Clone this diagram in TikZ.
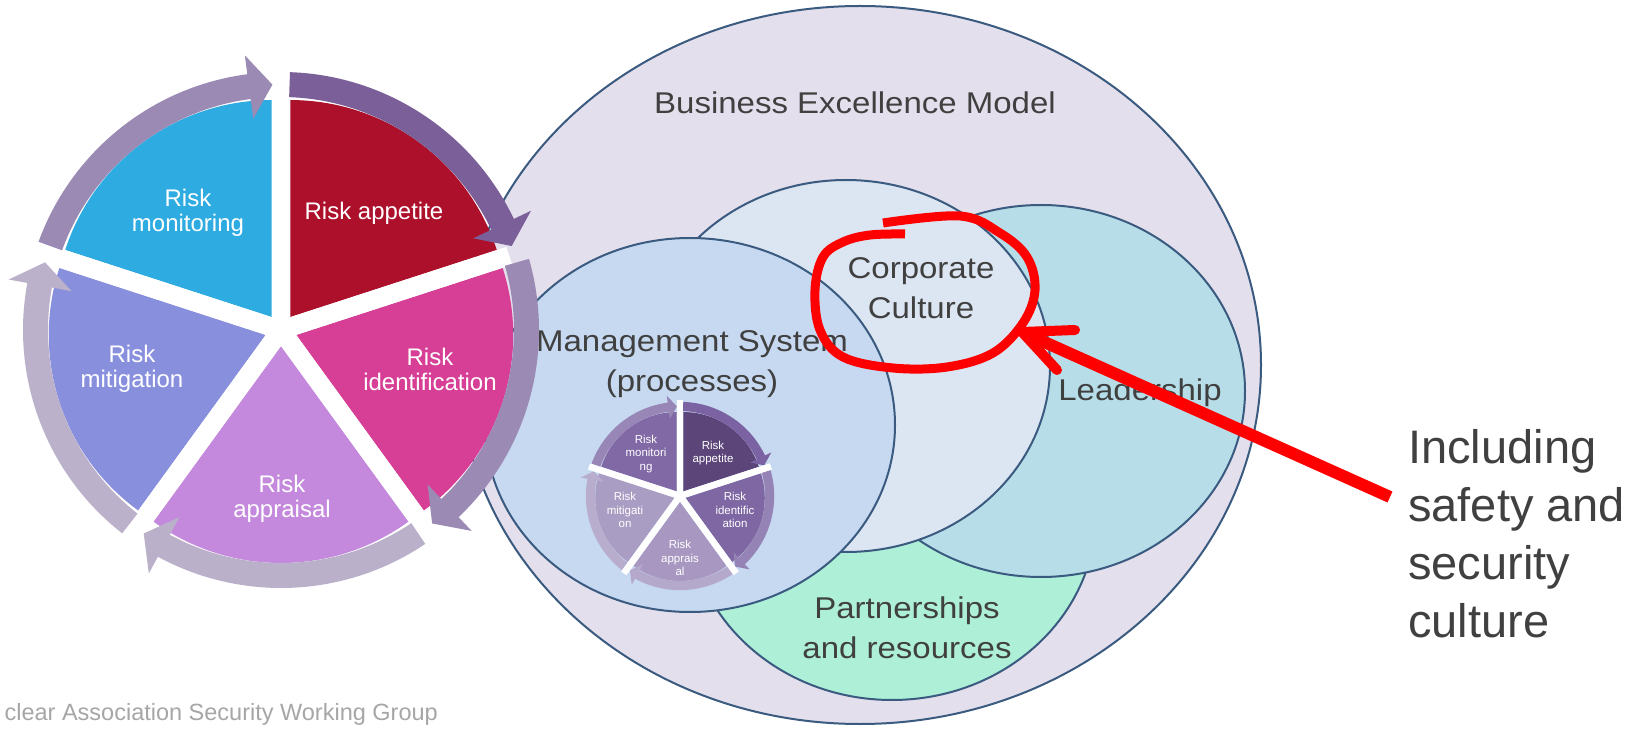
\documentclass[tikz,border=0pt]{standalone}
\usepackage{fontspec}
\setmainfont{Liberation Sans}
\usetikzlibrary{calc}
\definecolor{bemfill}{HTML}{E4DFEC}
\definecolor{ccfill}{HTML}{DCE6F2}
\definecolor{mgmtfill}{HTML}{C6D9F1}
\definecolor{leadfill}{HTML}{B7DEE8}
\definecolor{partfill}{HTML}{AEEFD7}
\definecolor{vennline}{HTML}{3A5A80}
\definecolor{labeltext}{HTML}{404040}
\definecolor{foottext}{HTML}{A6A6A6}
\definecolor{annored}{HTML}{FF0000}
% big pie
\definecolor{segmon}{HTML}{2EABE1}
\definecolor{segapp}{HTML}{AD102B}
\definecolor{segid}{HTML}{D63F95}
\definecolor{segappr}{HTML}{C489DC}
\definecolor{segmit}{HTML}{8890DE}
\definecolor{armon}{HTML}{9B8BB4}
\definecolor{arapp}{HTML}{7B5F98}
\definecolor{arid}{HTML}{9B8AB4}
\definecolor{arappr}{HTML}{BAB0CA}
\definecolor{armit}{HTML}{BBB1CB}
% small pie
\definecolor{smon}{HTML}{8169A5}
\definecolor{sapp}{HTML}{5B4579}
\definecolor{sid}{HTML}{7F67A4}
\definecolor{sappr}{HTML}{A898C1}
\definecolor{smit}{HTML}{AA9DC3}
\definecolor{samon}{HTML}{9886B6}
\definecolor{saapp}{HTML}{7B62A2}
\definecolor{said}{HTML}{9683B5}
\definecolor{saappr}{HTML}{B5A9CB}
\definecolor{samit}{HTML}{B8ADCD}

\newcommand{\pieSector}[2]{\fill[#2] (#1:16) -- ++({#1+36}:217) arc[start angle={#1+36}, end angle={#1-36}, radius=217] -- cycle;}
\newcommand{\pieArrow}[4]{\fill[#4] (#1:258) arc[start angle=#1, end angle=#2, radius=258] -- (#2:277) -- (#3:245.5) -- (#2:213) -- (#2:233) arc[start angle=#2, end angle=#1, radius=233] -- cycle;}
\newcommand{\pieGaps}[2]{\foreach \g in {90,18,-54,-126,162} {\draw[white, line width=#1] (0,0) -- (\g:#2);}}

\begin{document}
\begin{tikzpicture}[x=1pt, y=1pt,
  venn/.style={draw=vennline, line width=2pt},
  biglabel/.style={font=\fontsize{30}{40}\selectfont, text=labeltext, align=center, inner sep=0pt, xscale=1.1},
  pielabel/.style={font=\fontsize{24}{25}\selectfont, text=white, align=center, inner sep=0pt},
  minilabel/.style={font=\fontsize{11.5}{13.8}\selectfont, text=white, align=center, inner sep=0pt},
  redpen/.style={draw=annored, line width=9pt}]
\useasboundingbox (0,0) rectangle (1647,729);
\fill[white] (0,0) rectangle (1647,729);

% ---------- Venn circles ----------
\filldraw[venn, fill=bemfill] (860,364) ellipse [x radius=401, y radius=359];
\filldraw[venn, fill=partfill] (892,215) ellipse [x radius=204, y radius=186];
\filldraw[venn, fill=leadfill] (1041,338) ellipse [x radius=204, y radius=186];
\filldraw[venn, fill=ccfill] (846,363) ellipse [x radius=204, y radius=186];
\filldraw[venn, fill=mgmtfill] (690,304) ellipse [x radius=205, y radius=187];

\node[biglabel] (bem) at (855,626) {Business Excellence Model};
\node[biglabel] (mgmt) at (692,365) {Management System\\(processes)};
\node[biglabel] (cc) at (921,441) {Corporate\\Culture};
\node[biglabel] (lead) at (1140,336) {Leadership};
\node[biglabel] (part) at (907,101) {Partnerships\\and resources};

% ---------- small pie ----------
\begin{scope}[shift={(680,233)}, scale=0.365]
  \pieSector{126}{smon}
  \pieSector{54}{sapp}
  \pieSector{-18}{sid}
  \pieSector{-90}{sappr}
  \pieSector{-162}{smit}
  \pieArrow{160}{97.5}{92}{samon}
  \pieArrow{88}{25.5}{20}{saapp}
  \pieArrow{16}{-46.5}{-52}{said}
  \pieArrow{-56}{-118.5}{-124}{saappr}
  \pieArrow{-128}{-190.5}{-196}{samit}
  \pieGaps{6.5pt}{262}
\end{scope}
\node[minilabel] (smonl) at (646,275) {Risk\\monitori\\ng};
\node[minilabel] (sappl) at (713,276) {Risk\\appetite};
\node[minilabel] (sidl) at (735,219) {Risk\\identific\\ation};
\node[minilabel] (smitl) at (625,219) {Risk\\mitigati\\on};
\node[minilabel] (sapprl) at (680,171) {Risk\\apprais\\al};

% ---------- big pie ----------
\begin{scope}[shift={(281,399)}]
  \pieSector{126}{segmon}
  \pieSector{54}{segapp}
  \pieSector{-18}{segid}
  \pieSector{-90}{segappr}
  \pieSector{-162}{segmit}
  \pieGaps{18.8pt}{240}
  \pieArrow{160}{97.5}{92}{armon}
  \pieArrow{88}{25.5}{20}{arapp}
  \pieArrow{16}{-46.5}{-52}{arid}
  \pieArrow{-56}{-118.5}{-124}{arappr}
  \pieArrow{-128}{-190.5}{-196}{armit}
\end{scope}
\node[pielabel] (monl) at (188,516) {Risk\\monitoring};
\node[pielabel] (appl) at (374,516) {Risk appetite};
\node[pielabel] (idl) at (430,360) {Risk\\identification};
\node[pielabel] (apprl) at (282,230) {Risk\\appraisal};
\node[pielabel] (mitl) at (132,360) {Risk\\mitigation};

% ---------- footer ----------
\node[font=\fontsize{23.5}{28}\selectfont, text=foottext, anchor=base east, inner sep=0pt] (foot) at (438,9) {clear Association Security Working Group};

% ---------- annotation ----------
\node[font=\fontsize{47}{58}\selectfont, text=labeltext, align=left, anchor=west, inner sep=0pt] (inc) at (1408,195) {Including\\safety and\\security\\culture};
\draw[redpen] plot[smooth, tension=0.6] coordinates {(883,506) (960,513) (1000,496) (1027,472) (1035,439) (1023,406) (993,376) (947,362) (893,361) (843,372) (820,399) (815,439) (823,472) (843,487) (870,494) (905,495)};
\coordinate (arrowtip) at (1022,397);
\coordinate (shaftstart) at (1390,232);
\coordinate (upperarm) at (1075,399);
\coordinate (lowerarm) at (1057,359);
\draw[annored, line width=12pt] (shaftstart) -- ($(arrowtip)!0.025!(shaftstart)$);
\draw[annored, line width=10pt, line cap=round, line join=round] (upperarm) -- (arrowtip) -- (lowerarm);
\end{tikzpicture}
\end{document}
